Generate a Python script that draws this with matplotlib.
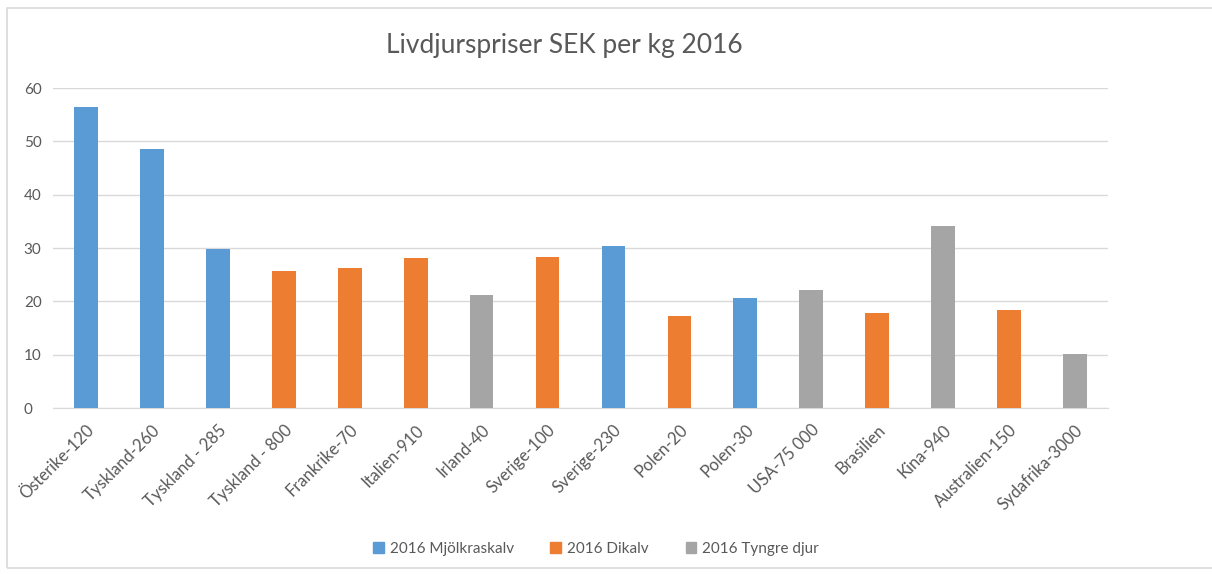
import numpy as np
import matplotlib.pyplot as plt
from matplotlib.patches import Patch, Rectangle

# Data
categories = ["Österike-120", "Tyskland-260", "Tyskland - 285", "Tyskland - 800",
              "Frankrike-70", "Italien-910", "Irland-40", "Sverige-100", "Sverige-230",
              "Polen-20", "Polen-30", "USA-75 000", "Brasilien", "Kina-940",
              "Australien-150", "Sydafrika-3000"]
values = [56.4, 48.6, 29.9, 25.7, 26.2, 28.1, 21.2, 28.3, 30.4,
          17.3, 20.6, 22.1, 17.9, 34.1, 18.3, 10.2]
series = ["M", "M", "M", "D", "D", "D", "T", "D", "M",
          "D", "M", "T", "D", "T", "D", "T"]
series_names = {"M": "2016 Mjölkraskalv", "D": "2016 Dikalv", "T": "2016 Tyngre djur"}
colors = {"M": "#5B9BD5", "D": "#ED7D31", "T": "#A5A5A5"}

plt.rcParams['font.family'] = ['Lato', 'DejaVu Sans']
txt = "#595959"

fig = plt.figure(figsize=(12.12, 5.74), dpi=100)
ax = fig.add_axes([53 / 1212, 166 / 574, 1055 / 1212, 320 / 574])

x = np.arange(len(categories))
ax.bar(x, values, width=0.36, color=[colors[s] for s in series], zorder=3)

ax.set_xlim(-0.5, len(categories) - 0.5)
ax.set_ylim(0, 60)
ax.set_yticks(range(0, 61, 10))
ax.grid(axis="y", color="#D9D9D9", linewidth=1, zorder=0)
for sp in ["top", "right", "left"]:
    ax.spines[sp].set_visible(False)
ax.spines["bottom"].set_color("#D9D9D9")
ax.tick_params(axis="both", length=0, colors=txt, labelsize=11)
ax.tick_params(axis="y", pad=21)
ax.set_xticks(x)
ax.set_xticklabels(categories, rotation=45, ha="right", rotation_mode="anchor",
                   color=txt, fontsize=12)
for lbl in ax.get_yticklabels():
    lbl.set_horizontalalignment("left")
ax.tick_params(axis="x", pad=10)

fig.text(564 / 1212, 1 - 45 / 574, "Livdjurspriser SEK per kg 2016", ha="center", va="center",
         fontsize=19, color=txt)

handles = [Patch(color=colors[k], label=series_names[k]) for k in ["M", "D", "T"]]
fig.legend(handles=handles, loc="center", bbox_to_anchor=(596 / 1212, 1 - 549 / 574), ncol=3,
           frameon=False, fontsize=11, handlelength=0.7, handleheight=0.7,
           handletextpad=0.4, columnspacing=2.4, labelcolor=txt)

# chart border
fig.patches.append(Rectangle((7 / 1212, 6 / 574), 1.1, 560 / 574, transform=fig.transFigure,
                             fill=False, edgecolor="#D9D9D9", linewidth=1.2))

fig.savefig("out.png", dpi=100)
